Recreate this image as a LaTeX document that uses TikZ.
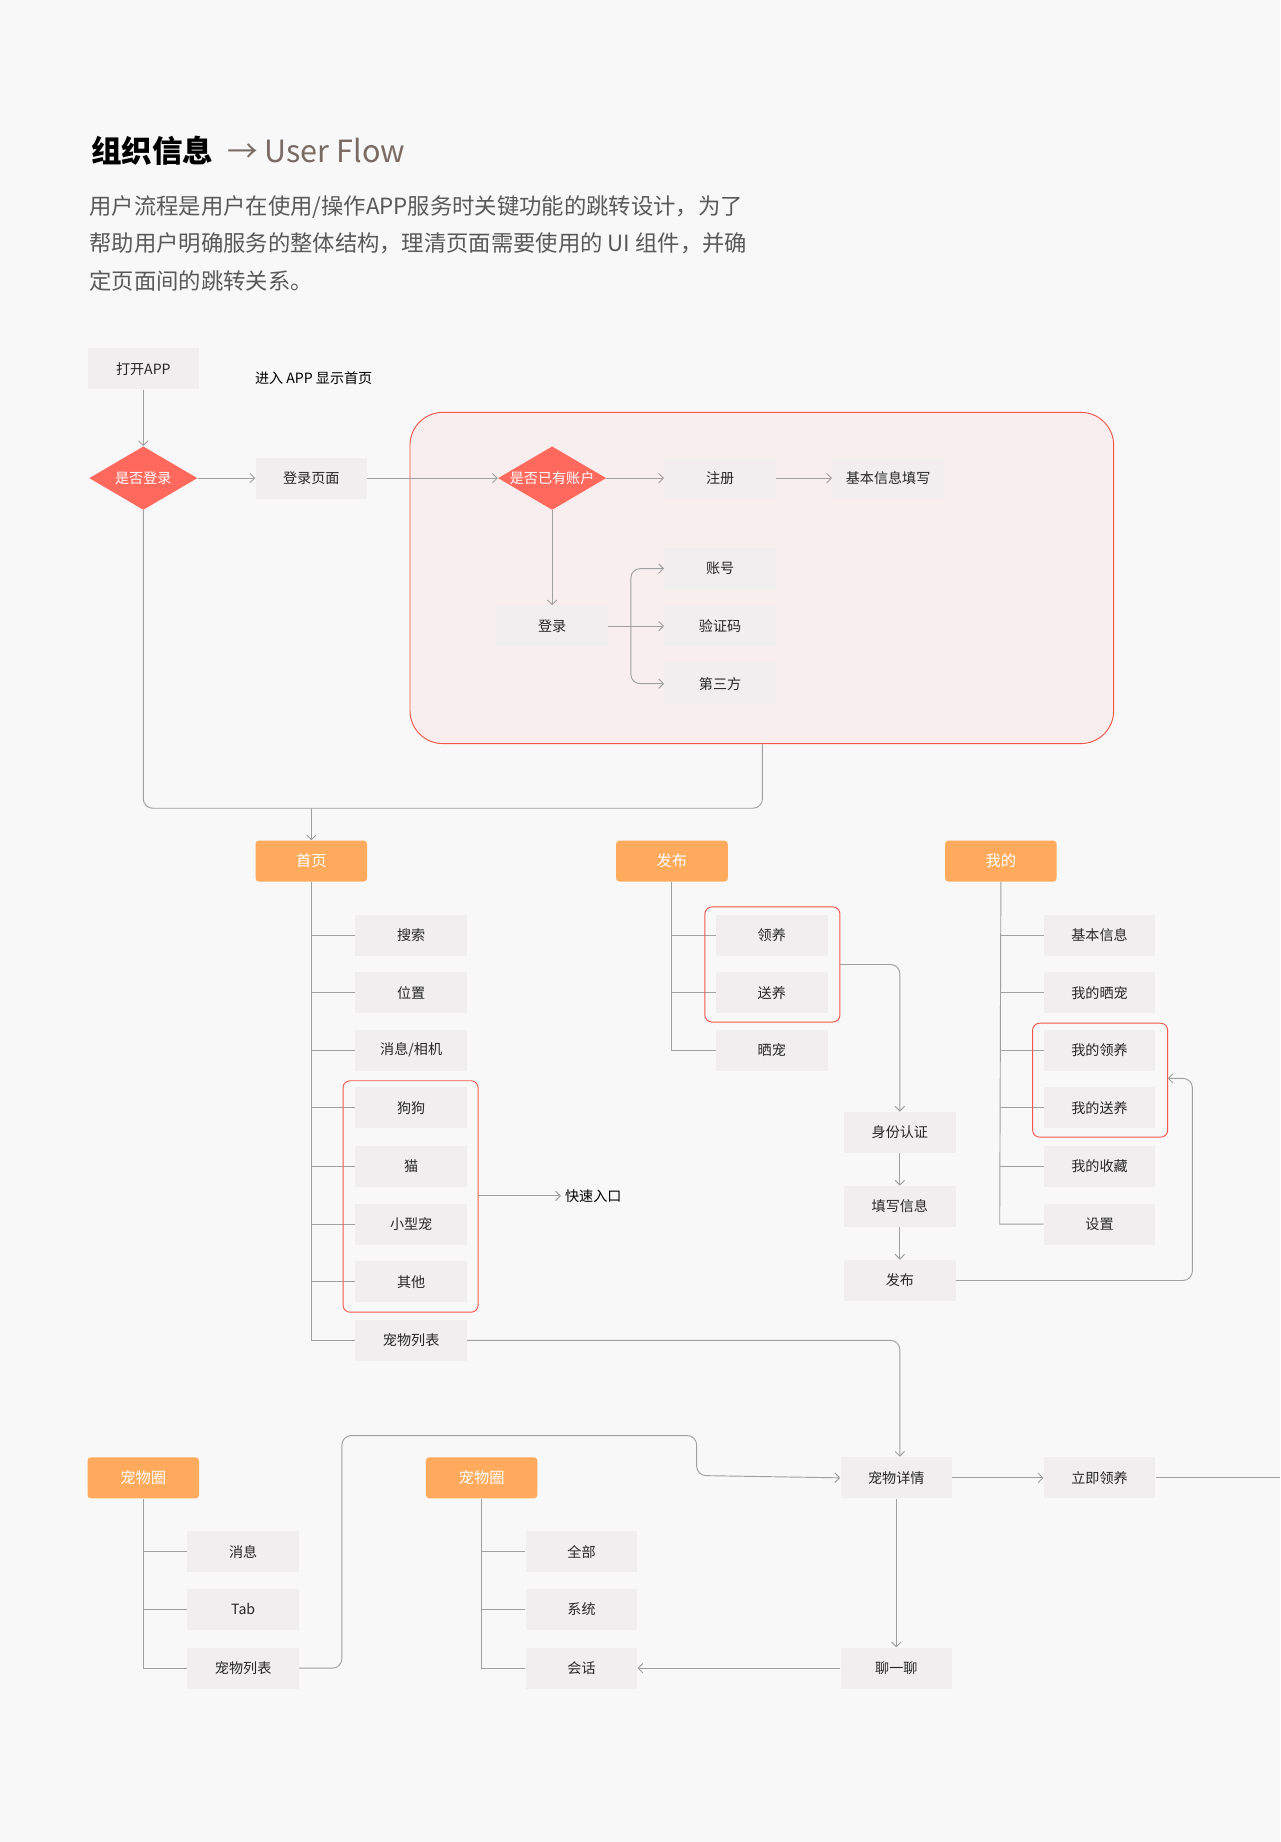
\documentclass[tikz,border=0pt]{standalone}
\usepackage{fontspec}
\setmainfont{Noto Sans CJK SC}
\usetikzlibrary{arrows.meta,shapes.geometric}
\definecolor{bg}{HTML}{F8F8F8}
\definecolor{boxc}{HTML}{F0EEEE}
\definecolor{org}{HTML}{FFAA5C}
\definecolor{redd}{HTML}{FF685C}
\definecolor{redl}{HTML}{F2584A}
\definecolor{regf}{HTML}{F8EEEE}
\definecolor{ln}{HTML}{A0A0A0}
\definecolor{ttl}{HTML}{7A6A64}
\begin{document}
\begin{tikzpicture}[x=1pt,y=-1pt,
  box/.style={fill=boxc,minimum width=95pt,minimum height=35pt,inner sep=0pt,font=\fontsize{12}{14}\selectfont,text=black!85},
  hb/.style={fill=org,rounded corners=3pt,minimum width=95pt,minimum height=35pt,inner sep=0pt,font=\fontsize{13}{15}\selectfont,text=white},
  dia/.style={diamond,fill=redd,minimum width=92pt,minimum height=54pt,aspect=1.7,inner sep=0pt,font=\fontsize{12}{14}\selectfont,text=white},
  ln/.style={draw=ln,line width=0.8pt},
  ar/.style={ln,-{Straight Barb[length=4pt,width=8pt]}},
  rb/.style={draw=redl,line width=0.8pt,rounded corners=6pt},
  rc/.style={rounded corners=8pt}]
\fill[bg] (0,0) rectangle (1090,1568);
\useasboundingbox (0,0) rectangle (1090,1568);
% title
\node[anchor=west,font=\fontsize{26}{30}\selectfont\bfseries] (t1) at (74,128) {组织信息};
\node[anchor=west,font=\fontsize{26}{30}\selectfont,text=ttl] (t2) at (190,128) {→ User Flow};
\node[anchor=north west,align=left,font=\fontsize{19}{32}\selectfont,text=black!65,inner sep=0pt] (par) at (76,166) {用户流程是用户在使用/操作APP服务时关键功能的跳转设计，为了\\帮助用户明确服务的整体结构，理清页面需要使用的 UI 组件，并确\\定页面间的跳转关系。};
% region
\draw[fill=regf,draw=redl,line width=0.8pt,rounded corners=28pt] (349,351) rectangle (948,633);
\coordinate (rb) at (649,633);
% top flow
\node[box] (open) at (122,314) {打开APP};
\node[font=\fontsize{12}{14}\selectfont] (enter) at (267,322) {进入 APP 显示首页};
\node[dia] (d1) at (122,407) {是否登录};
\node[box] (lp) at (265,407) {登录页面};
\node[dia] (d2) at (470,407) {是否已有账户};
\node[box] (reg) at (613,407) {注册};
\node[box] (info) at (756,407) {基本信息填写};
\node[box] (login) at (470,533) {登录};
\node[box] (acc) at (613,484) {账号};
\node[box] (code) at (613,533) {验证码};
\node[box] (third) at (613,582) {第三方};
\draw[ar] (open) -- (d1);
\draw[ar] (d1) -- (lp);
\draw[ar] (lp) -- (d2);
\draw[ar] (d2) -- (reg);
\draw[ar] (reg) -- (info);
\draw[ar] (d2) -- (login);
\coordinate (br) at (537,533);
\draw[ln] (login) -- (br);
\draw[ar] (br) -- (code);
\draw[ar,rc] (br) -- (537,484) -- (acc);
\draw[ar,rc] (br) -- (537,582) -- (third);
% home headers
\node[hb] (home) at (265,733) {首页};
\node[hb] (pub) at (572,733) {发布};
\node[hb] (me) at (852,733) {我的};
\draw[ln,rc] (d1) -- (122,688) -- (649,688) -- (rb);
\draw[ar] (265,688) -- (home);
% home children
\foreach \n/\tx/\y in {s1/搜索/796,s2/位置/845,s3/{消息/相机}/894,s4/狗狗/943,s5/猫/993,s6/小型宠/1042,s7/其他/1091,s8/宠物列表/1141}
  {\node[box] (\n) at (350,\y) {\tx};}
\draw[ln] (home.south) -- (265,1141) -- (s8);
\foreach \n in {s1,s2,s3,s4,s5,s6,s7} {\draw[ln] (\n.west -| home) -- (\n);}
\draw[rb] (292,920) rectangle (407,1117);
\coordinate (qr) at (407,1018);
\node[font=\fontsize{12}{14}\selectfont] (quick) at (505,1018) {快速入口};
\draw[ar] (qr) -- (quick);
% publish children
\node[box] (p1) at (657,796) {领养};
\node[box] (p2) at (657,845) {送养};
\node[box] (p3) at (657,894) {晒宠};
\draw[ln] (pub.south) -- (572,894) -- (p3);
\draw[ln] (p1.west -| pub) -- (p1);
\draw[ln] (p2.west -| pub) -- (p2);
\draw[rb] (600,772) rectangle (715,870);
\node[box] (id) at (766,964) {身份认证};
\node[box] (fill) at (766,1027) {填写信息};
\node[box] (pubb) at (766,1090) {发布};
\draw[ar,rc] (715,821) -- (766,821) -- (id);
\draw[ar] (id) -- (fill);
\draw[ar] (fill) -- (pubb);
% me children
\foreach \n/\tx/\y in {m1/基本信息/796,m2/我的晒宠/845,m3/我的领养/894,m4/我的送养/943,m5/我的收藏/993,m6/设置/1042}
  {\node[box] (\n) at (936,\y) {\tx};}
\draw[ln] (me.south) -- (851,1042) -- (m6);
\foreach \n in {m1,m2,m3,m4,m5} {\draw[ln] (851,0 |- \n) -- (\n);}
\draw[rb] (879,871) rectangle (994,968);
\draw[ar,rc] (pubb) -- (1015,1090) -- (1015,918) -- (994,918);
% pet detail
\node[box] (det) at (763,1258) {宠物详情};
\node[box] (adopt) at (936,1258) {立即领养};
\node[box] (chat) at (763,1420) {聊一聊};
\draw[ar,rc] (s8) -- (766,1141) -- (766,1240);
\draw[ar] (det) -- (adopt);
\draw[ln] (adopt) -- (1090,1258);
\draw[ar] (det) -- (chat);
% circle left
\node[hb] (c1) at (122,1258) {宠物圈};
\node[box] (c11) at (207,1321) {消息};
\node[box] (c12) at (207,1370) {Tab};
\node[box] (c13) at (207,1420) {宠物列表};
\draw[ln] (c1.south) -- (122,1420) -- (c13);
\draw[ln] (122,1321) -- (c11);
\draw[ln] (122,1370) -- (c12);
\draw[ar,rc] (c13) -- (291,1420) -- (291,1222) -- (593,1222) -- (593,1256) -- (det.west);
% circle mid
\node[hb] (c2) at (410,1258) {宠物圈};
\node[box] (c21) at (495,1321) {全部};
\node[box] (c22) at (495,1370) {系统};
\node[box] (c23) at (495,1420) {会话};
\draw[ln] (c2.south) -- (410,1420) -- (c23);
\draw[ln] (410,1321) -- (c21);
\draw[ln] (410,1370) -- (c22);
\draw[ar] (chat) -- (c23);
\end{tikzpicture}
\end{document}
